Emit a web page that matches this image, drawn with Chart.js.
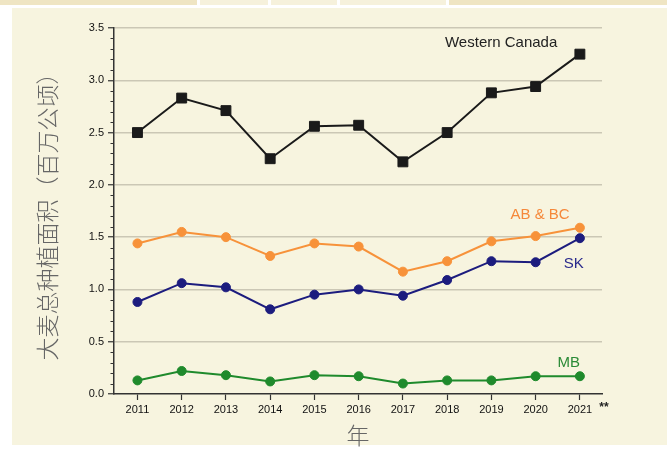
<!DOCTYPE html>
<html>
<head>
<meta charset="utf-8">
<script src="https://cdn.jsdelivr.net/npm/chart.js@4.4.1/dist/chart.umd.min.js"></script>
<style>
    html, body { margin: 0; padding: 0; background: #fff; }
    #wrap { position: relative; width: 667px; height: 449px; overflow: hidden; }
    .strip { position: absolute; top: 0; height: 5px; background: #efe5c3; }
    .strip.light { background: #f6f1dc; }
    #panel { position: absolute; left: 12px; top: 8px; width: 655px; height: 437px; background: #f7f4df; }
    #myChart { position: absolute; left: 0; top: 0; }
</style>
</head>
<body>
<div id="wrap">
    <div class="strip" style="left:0;width:197px"></div>
    <div class="strip light" style="left:200px;width:68px"></div>
    <div class="strip light" style="left:271px;width:66px"></div>
    <div class="strip light" style="left:340px;width:106px"></div>
    <div class="strip" style="left:449px;width:218px"></div>
    <div id="panel"></div>
    <canvas id="myChart" width="667" height="449"></canvas>
</div>
<script>
var years = [2011, 2012, 2013, 2014, 2015, 2016, 2017, 2018, 2019, 2020, 2021];
var westernCanada = [2.50, 2.83, 2.71, 2.25, 2.56, 2.57, 2.22, 2.50, 2.88, 2.94, 3.25];
var abBc = [1.44, 1.55, 1.50, 1.32, 1.44, 1.41, 1.17, 1.27, 1.46, 1.51, 1.59];
var sk = [0.88, 1.06, 1.02, 0.81, 0.95, 1.00, 0.94, 1.09, 1.27, 1.26, 1.49];
var mb = [0.13, 0.22, 0.18, 0.12, 0.18, 0.17, 0.10, 0.13, 0.13, 0.17, 0.17];
var yTicks = [0, 0.5, 1.0, 1.5, 2.0, 2.5, 3.0, 3.5];

var tickFont = { family: "'Liberation Sans', Arial, sans-serif", size: 11 };
var cjkFont = "'Noto Sans CJK SC', sans-serif";

function points(values) {
    return years.map(function (yr, i) { return { x: yr, y: values[i] }; });
}

function series(label, values, color, style, radius) {
    return {
        label: label,
        data: points(values),
        borderColor: color,
        backgroundColor: color,
        borderWidth: 2,
        pointStyle: style,
        pointRadius: radius,
        pointBorderWidth: 1,
        pointHoverRadius: radius
    };
}

// text labels beside the lines, anchored in data space
var notes = [
    { text: 'Western Canada', x: 2019.22, y: 3.36, color: '#222' },
    { text: 'AB & BC', x: 2020.1, y: 1.71, color: '#f5883a' },
    { text: 'SK', x: 2020.86, y: 1.24, color: '#2a2a8c' },
    { text: 'MB', x: 2020.75, y: 0.30, color: '#2a8a36' }
];

var extras = {
    id: 'extras',
    afterDraw: function (chart) {
        var ctx = chart.ctx;
        var xs = chart.scales.x, ys = chart.scales.y;
        var left = chart.chartArea.left;
        ctx.save();
        // minor ticks on the y axis
        ctx.strokeStyle = '#333';
        ctx.lineWidth = 1;
        for (var i = 1; i < 35; i++) {
            if (i % 5 === 0) continue;
            var py = Math.round(ys.getPixelForValue(i / 10)) + 0.5;
            ctx.beginPath();
            ctx.moveTo(left - 3.5, py);
            ctx.lineTo(left, py);
            ctx.stroke();
        }
        ctx.font = "15px 'Liberation Sans', Arial, sans-serif";
        ctx.textAlign = 'center';
        ctx.textBaseline = 'middle';
        notes.forEach(function (n) {
            ctx.fillStyle = n.color;
            ctx.fillText(n.text, xs.getPixelForValue(n.x), ys.getPixelForValue(n.y));
        });
        ctx.fillStyle = '#222';
        ctx.font = "bold 12px 'Liberation Sans', Arial, sans-serif";
        ctx.fillText('**', xs.right + 2, chart.chartArea.bottom + 14);
        ctx.restore();
    }
};

var chartContext = document.getElementById('myChart').getContext('2d');
var currentChart = new Chart(chartContext, {
    type: 'line',
    data: {
        datasets: [
            series('Western Canada', westernCanada, '#1a1a1a', 'rect', 7),
            series('AB & BC', abBc, '#f7923a', 'circle', 4.5),
            series('SK', sk, '#1c1c7e', 'circle', 4.5),
            series('MB', mb, '#1f8a2c', 'circle', 4.5)
        ]
    },
    options: {
        responsive: false,
        animation: false,
        devicePixelRatio: 1,
        layout: { padding: { top: 28, right: 65, left: 0, bottom: 0 } },
        scales: {
            x: {
                type: 'linear',
                min: 2010.47,
                max: 2021.5,
                afterBuildTicks: function (scale) {
                    scale.ticks = years.map(function (v) { return { value: v }; });
                },
                afterFit: function (scale) { scale.height = 55; },
                grid: { drawOnChartArea: false, tickLength: 6, tickColor: '#333', tickWidth: 1.2 },
                border: { color: '#333', width: 1.5 },
                ticks: {
                    font: tickFont,
                    color: '#111',
                    padding: 3,
                    maxRotation: 0,
                    callback: function (v) { return String(v); }
                },
                title: {
                    display: true,
                    text: '年',
                    color: '#666',
                    font: { family: cjkFont, size: 23, weight: 300 },
                    padding: { top: 0, bottom: 0 }
                }
            },
            y: {
                min: 0,
                max: 3.5,
                afterBuildTicks: function (scale) {
                    scale.ticks = yTicks.map(function (v) { return { value: v }; });
                },
                afterFit: function (scale) { scale.width = 114; },
                grid: {
                    color: function (c) { return c.tick && c.tick.value === 0 ? 'rgba(0,0,0,0)' : '#cbc7b5'; },
                    lineWidth: 1.5,
                    tickLength: 6,
                    tickColor: '#333',
                    tickWidth: 1.2
                },
                border: { color: '#333', width: 1.5 },
                ticks: {
                    font: tickFont,
                    color: '#111',
                    padding: 4,
                    callback: function (v) { return Number(v).toFixed(1); }
                },
                title: {
                    display: true,
                    text: '大麦总种植面积（百万公顷）',
                    color: '#666',
                    font: { family: cjkFont, size: 23, weight: 300 },
                    padding: { top: 33, bottom: 0 }
                }
            }
        },
        plugins: {
            legend: { display: false },
            tooltip: { enabled: false }
        }
    },
    plugins: [extras]
});
</script>
</body>
</html>
